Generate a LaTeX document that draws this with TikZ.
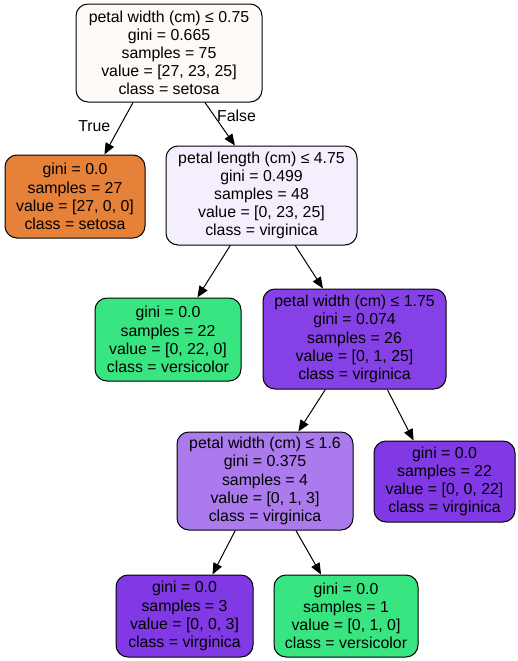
\documentclass[tikz,border=0pt]{standalone}
\usepackage{fontspec}
\setmainfont{Liberation Sans}
\usetikzlibrary{arrows.meta}
\definecolor{csetosa}{HTML}{E58139}
\definecolor{cversi}{HTML}{39E581}
\definecolor{cvirg}{HTML}{8139E5}
\definecolor{croot}{HTML}{FEFAF7}
\definecolor{cpl}{HTML}{F5EFFD}
\definecolor{cpwa}{HTML}{8641E6}
\definecolor{cpwb}{HTML}{AB7BEE}
\begin{document}
\begin{tikzpicture}[x=0.75pt,y=-0.75pt,
  box/.style={draw=black,line width=0.75pt,rounded corners=9pt,align=center,inner sep=1pt,
    font=\fontsize{11.9}{13.6}\selectfont},
  edge/.style={line width=0.75pt,-{Triangle[length=8.5pt,width=7pt]}},
  elabel/.style={font=\fontsize{11.9}{13.6}\selectfont,inner sep=1pt}]
  \useasboundingbox (0,0) rectangle (518,661);
  \node[box,fill=croot,minimum width=139.5pt,minimum height=73.5pt] (root) at (169,53)
    {petal width (cm) ≤ 0.75\\gini = 0.665\\samples = 75\\value = [27, 23, 25]\\class = setosa};
  \node[box,fill=csetosa,minimum width=105pt,minimum height=62.25pt] (setosa) at (75,196.5)
    {gini = 0.0\\samples = 27\\value = [27, 0, 0]\\class = setosa};
  \node[box,fill=cpl,minimum width=143.25pt,minimum height=74.25pt] (pl) at (261.5,195.5)
    {petal length (cm) ≤ 4.75\\gini = 0.499\\samples = 48\\value = [0, 23, 25]\\class = virginica};
  \node[box,fill=cversi,minimum width=109.5pt,minimum height=62.25pt] (versi) at (168,339.5)
    {gini = 0.0\\samples = 22\\value = [0, 22, 0]\\class = versicolor};
  \node[box,fill=cpwa,minimum width=137.25pt,minimum height=75pt] (pwa) at (354.5,339)
    {petal width (cm) ≤ 1.75\\gini = 0.074\\samples = 26\\value = [0, 1, 25]\\class = virginica};
  \node[box,fill=cpwb,minimum width=132pt,minimum height=73.5pt] (pwb) at (265,481)
    {petal width (cm) ≤ 1.6\\gini = 0.375\\samples = 4\\value = [0, 1, 3]\\class = virginica};
  \node[box,fill=cvirg,minimum width=105.75pt,minimum height=60.75pt] (virgA) at (444.5,481.5)
    {gini = 0.0\\samples = 22\\value = [0, 0, 22]\\class = virginica};
  \node[box,fill=cvirg,minimum width=102.75pt,minimum height=61.5pt] (virgB) at (184.5,616)
    {gini = 0.0\\samples = 3\\value = [0, 0, 3]\\class = virginica};
  \node[box,fill=cversi,minimum width=108pt,minimum height=61.5pt] (versB) at (346,616)
    {gini = 0.0\\samples = 1\\value = [0, 1, 0]\\class = versicolor};
  % edges
  \draw[edge] (root.-126) -- (setosa.55) node[elabel,pos=0.45,left=6pt] {True};
  \draw[edge] (root.-54.5) -- (pl.118) node[elabel,pos=0.3,right=1pt] {False};
  \draw[edge] (pl.-122.5) -- (versi.55);
  \draw[edge] (pl.-56) -- (pwa.122);
  \draw[edge] (pwa.-120.5) -- (pwb.56);
  \draw[edge] (pwa.-57) -- (virgA.127);
  \draw[edge] (pwb.-121.5) -- (virgB.56);
  \draw[edge] (pwb.-58.5) -- (versB.121);
\end{tikzpicture}
\end{document}
